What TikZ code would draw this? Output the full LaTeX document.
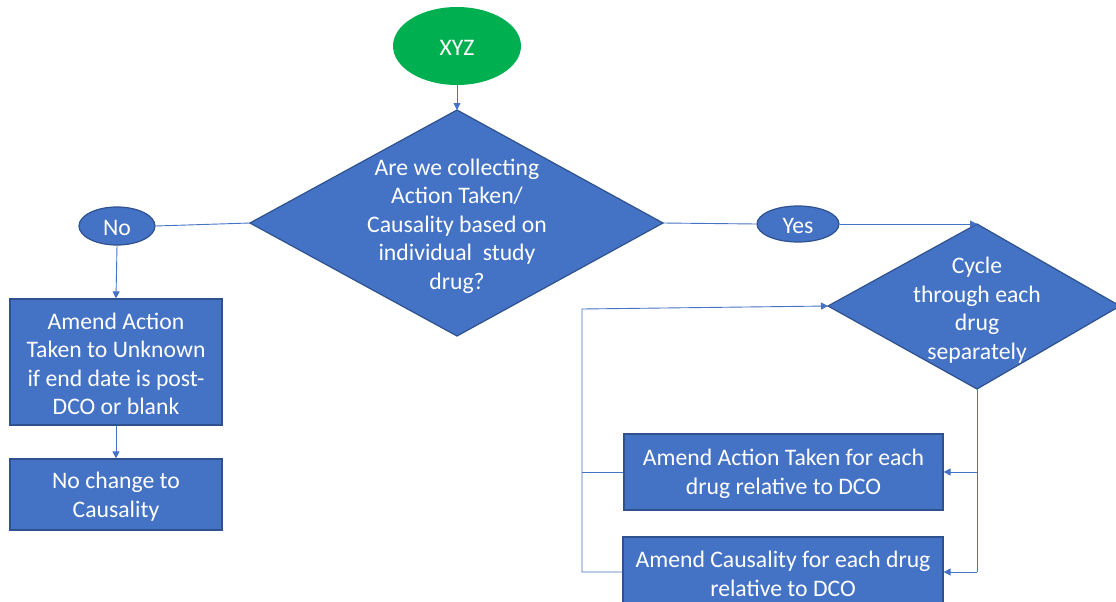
\documentclass[tikz,border=0pt]{standalone}
\usepackage{fontspec}
\setmainfont{Carlito}
\usetikzlibrary{arrows.meta,shapes.geometric}
\definecolor{fillblue}{HTML}{4472C4}
\definecolor{edgeblue}{HTML}{2F528F}
\definecolor{startgreen}{HTML}{00B050}
\definecolor{linkblue}{HTML}{4472C4}

\begin{document}
\begin{tikzpicture}[x=1pt,y=-1pt,
  txt/.style={text=white,font=\fontsize{23.7}{28.5}\selectfont,align=center},
  procbox/.style={rectangle,draw=edgeblue,line width=1.2pt,fill=fillblue,txt,inner sep=0pt},
  oval/.style={ellipse,draw=edgeblue,line width=1.2pt,fill=fillblue,txt,inner sep=0pt},
  decision/.style={draw=edgeblue,line width=1.2pt,fill=fillblue},
  link/.style={draw=linkblue,line width=0.9pt},
  flow/.style={link,-{Triangle[length=7pt,width=7pt]}},
  lower/.style={yshift=-2pt}
]
\useasboundingbox (0,0) rectangle (1116,602);
\clip (0,0) rectangle (1116,602);

% start terminal
\node[ellipse,fill=startgreen,txt,inner sep=0pt,minimum width=128pt,minimum height=78pt] (xyz) at (457,46) {};
\node[txt,lower] at (xyz) {XYZ};

% first decision
\coordinate (d1t) at (457,110);
\coordinate (d1r) at (663,223);
\coordinate (d1b) at (457,336);
\coordinate (d1l) at (250,223);
\draw[decision] (d1t) -- (d1r) -- (d1b) -- (d1l) -- cycle;
\node[txt,lower] (q1) at (457,224) {Are we collecting\\Action Taken/\\Causality based on\\individual~ study\\drug?};

% branch labels
\node[oval,minimum width=76pt,minimum height=38pt] (no) at (117,226) {};
\node[txt,lower] at (no) {No};
\node[oval,minimum width=82pt,minimum height=36pt] (yes) at (798,224) {};
\node[txt,lower] at (yes) {Yes};

% left branch boxes
\node[procbox,minimum width=212pt,minimum height=126pt] (b1) at (116,362) {};
\node[txt,lower] at (116,362) {Amend Action\\Taken to Unknown\\if end date is post-\\DCO or blank};
\node[procbox,minimum width=212pt,minimum height=71pt] (b2) at (116,494.5) {};
\node[txt,lower] at (b2) {No change to\\Causality};

% second decision
\coordinate (d2t) at (977,224);
\coordinate (d2r) at (1120,306);
\coordinate (d2b) at (977,389);
\coordinate (d2l) at (828,306);
\draw[decision] (d2t) -- (d2r) -- (d2b) -- (d2l) -- cycle;
\node[txt,lower] (q2) at (977,308) {Cycle\\through each\\drug\\separately};

% right branch boxes
\node[procbox,minimum width=319pt,minimum height=76pt] (b3) at (783.5,472) {};
\node[txt,lower] at (b3) {Amend Action Taken for each\\drug relative to DCO};
\node[procbox,minimum width=320pt,minimum height=70pt] (b4) at (783,572) {};
\node[txt,lower] at (b4) {Amend Causality for each drug\\relative to DCO};

% connectors
\draw[flow] (xyz.south) -- (d1t);
\draw[link] (d1l) -- (no.east);
\draw[flow] (no.south) -- (b1.north);
\draw[flow] (b1.south) -- (b2.north);
\draw[link] (d1r) -- (yes.west);
\draw[flow] (yes.east) -- (d2t);

\draw[link] (d2b) -- (d2b |- b4.east);
\draw[flow] (d2b |- b3.east) -- (b3.east);
\draw[flow] (d2b |- b4.east) -- (b4.east);

\coordinate (loop) at (582,309);
\draw[link] (b3.west) -- (b3.west -| loop);
\draw[flow] (b4.west) -- (b4.west -| loop) -- (loop) -- (d2l);
\end{tikzpicture}
\end{document}
